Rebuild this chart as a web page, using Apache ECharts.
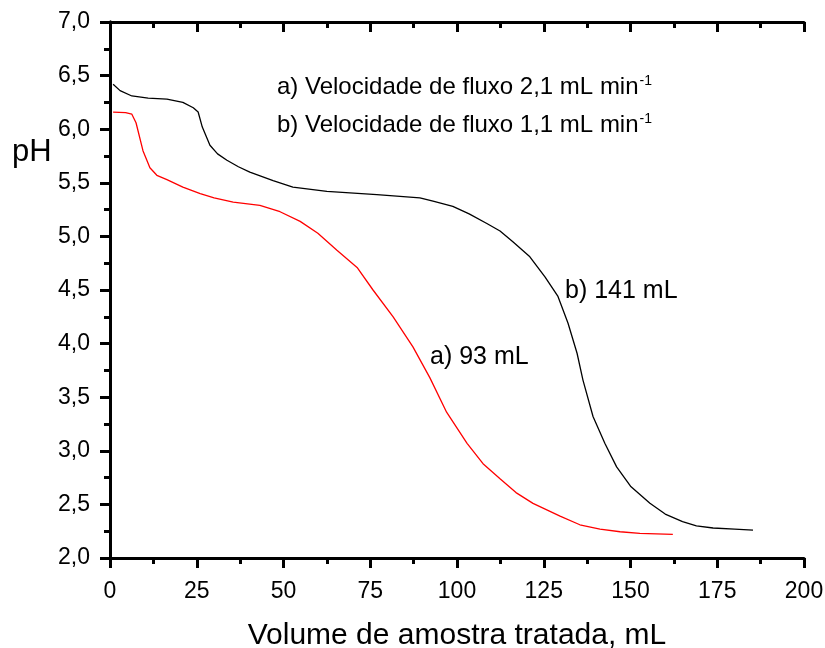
<!DOCTYPE html>
<html>
<head>
<meta charset="utf-8">
<script src="https://cdn.jsdelivr.net/npm/echarts@6/dist/echarts.min.js"></script>
<style>
  html, body { margin: 0; padding: 0; background: #fff; }
  #chart { width: 825px; height: 648px; }
</style>
</head>
<body>
<div id="chart"></div>
<script>
// curva a) 2,1 mL/min (vermelha)
var volA = [0.9, 4.5, 6.3, 7.5, 9.5, 11.5, 13.5, 16.4, 21, 26, 30, 35.5, 43.2, 49, 54.8, 59.9, 65.4, 71.2, 75.8, 81.6, 87.3, 92.2, 97, 102.9, 107.5, 112.4, 117, 121.9, 129.7, 135.4, 141.2, 147, 152.7, 162.2];
var phA  = [6.16, 6.155, 6.14, 6.06, 5.80, 5.64, 5.57, 5.53, 5.46, 5.40, 5.36, 5.32, 5.29, 5.23, 5.14, 5.03, 4.87, 4.71, 4.50, 4.25, 3.97, 3.68, 3.36, 3.07, 2.88, 2.74, 2.61, 2.51, 2.39, 2.31, 2.27, 2.245, 2.23, 2.22];

// curva b) 1,1 mL/min (preta)
var volB = [0.9, 2.9, 6.3, 11, 16.4, 21, 24, 25.4, 26.6, 28.8, 31, 33.7, 37, 40.3, 47, 52.7, 62.5, 76.9, 89.3, 93.1, 98.8, 103.5, 108.6, 112.4, 116.1, 121, 125.4, 129.1, 132, 134.6, 136.3, 139.2, 142.6, 146, 150, 155.6, 160, 165, 169, 173.8, 180, 185.3];
var phB  = [6.42, 6.36, 6.31, 6.29, 6.28, 6.25, 6.20, 6.16, 6.02, 5.85, 5.77, 5.71, 5.65, 5.60, 5.52, 5.46, 5.42, 5.39, 5.36, 5.33, 5.28, 5.21, 5.12, 5.05, 4.95, 4.81, 4.62, 4.44, 4.19, 3.91, 3.66, 3.32, 3.07, 2.85, 2.67, 2.51, 2.41, 2.34, 2.30, 2.28, 2.27, 2.26];

var xTicks = [0, 25, 50, 75, 100, 125, 150, 175, 200];

function pares(xs, ys) {
    return xs.map(function (x, i) { return [x, ys[i]]; });
}

var myChart = echarts.init(document.getElementById('chart'));

var fonte = '"Liberation Sans", Arial, sans-serif';
var eixoLinha = { lineStyle: { color: '#000', width: 3 } };
var tickFora = { length: 10, lineStyle: { width: 3, color: '#000' } };
var tickDentro = { inside: true, length: 10, lineStyle: { width: 3, color: '#000' } };
var minorFora = { show: true, splitNumber: 2, length: 6, lineStyle: { width: 3, color: '#000' } };

var option = {
    animation: false,
    backgroundColor: '#fff',
    grid: { left: 110, right: 21, top: 22, bottom: 90, outerBoundsMode: 'none', containLabel: false },
    xAxis: [{
        type: 'value',
        min: 0, max: 200, interval: 25,
        axisLine: eixoLinha,
        axisTick: tickFora,
        minorTick: minorFora,
        splitLine: { show: false },
        minorSplitLine: { show: false },
        axisLabel: {
            margin: 22, color: '#000', fontSize: 23, fontFamily: fonte,
            formatter: function (v) { return xTicks.indexOf(v) >= 0 ? String(v) : ''; }
        },
        name: 'Volume de amostra tratada, mL',
        nameLocation: 'middle', nameGap: 63,
        nameTextStyle: { color: '#000', fontSize: 30, fontFamily: fonte }
    }, {
        type: 'value', position: 'top',
        min: 0, max: 200, interval: 25,
        axisLine: eixoLinha,
        axisTick: tickDentro,
        minorTick: minorFora,
        splitLine: { show: false },
        axisLabel: { show: false }
    }],
    yAxis: [{
        type: 'value',
        min: 2, max: 7, interval: 0.5,
        axisLine: eixoLinha,
        axisTick: tickFora,
        minorTick: minorFora,
        splitLine: { show: false },
        axisLabel: {
            margin: 20, color: '#000', fontSize: 23, fontFamily: fonte,
            formatter: function (v) { return v.toFixed(1).replace('.', ','); }
        }
    }, {
        type: 'value', position: 'right',
        min: 2, max: 7, interval: 0.5,
        axisLine: eixoLinha,
        axisTick: tickDentro,
        minorTick: minorFora,
        splitLine: { show: false },
        axisLabel: { show: false }
    }],
    series: [{
        name: 'a)',
        type: 'line',
        data: pares(volA, phA),
        smooth: false,
        showSymbol: false,
        lineStyle: { color: '#ff0000', width: 1.3 },
        z: 3
    }, {
        name: 'b)',
        type: 'line',
        data: pares(volB, phB),
        smooth: false,
        showSymbol: false,
        lineStyle: { color: '#000', width: 1.3 },
        z: 3
    }],
    graphic: [{
        type: 'text', left: 12, top: 137,
        style: { text: 'pH', fill: '#000', font: '31px ' + fonte }
    }, {
        type: 'text', left: 277, top: 74,
        style: {
            text: '{n|a) Velocidade de fluxo 2,1 mL min}{s|-1}',
            rich: {
                n: { fontSize: 24, fontFamily: fonte, fill: '#000' },
                s: { fontSize: 14, fontFamily: fonte, fill: '#000', verticalAlign: 'top', padding: [0, 0, 12, 1] }
            }
        }
    }, {
        type: 'text', left: 277, top: 112,
        style: {
            text: '{n|b) Velocidade de fluxo 1,1 mL min}{s|-1}',
            rich: {
                n: { fontSize: 24, fontFamily: fonte, fill: '#000' },
                s: { fontSize: 14, fontFamily: fonte, fill: '#000', verticalAlign: 'top', padding: [0, 0, 12, 1] }
            }
        }
    }, {
        type: 'text', left: 565, top: 279,
        style: { text: 'b) 141 mL', fill: '#000', font: '25px ' + fonte }
    }, {
        type: 'text', left: 430, top: 345,
        style: { text: 'a) 93 mL', fill: '#000', font: '25px ' + fonte }
    }]
};

myChart.setOption(option);
window.addEventListener('resize', function () { myChart.resize(); }, false);
</script>
</body>
</html>
